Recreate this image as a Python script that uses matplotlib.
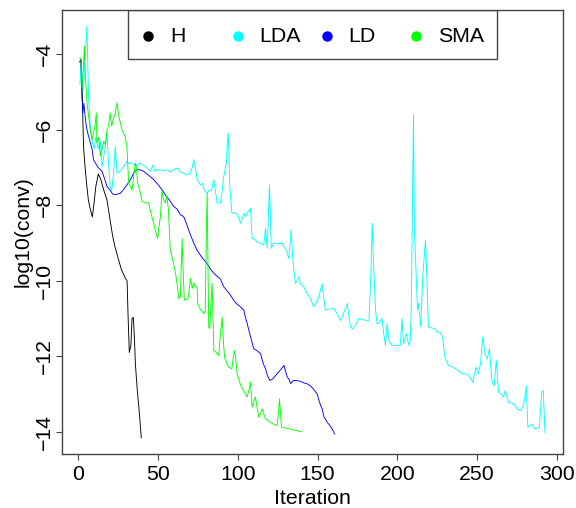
import matplotlib.pyplot as plt
from matplotlib.patches import Rectangle

plt.rcParams['font.family'] = ['Liberation Sans', 'DejaVu Sans']

# H series (iteration, log10 conv)
h_iter = [1, 1.7, 2.5, 3.3, 4.4, 5.4, 6.3, 7.5, 8.8, 10, 11, 12.6, 14, 16, 18, 20, 21.5, 23,
          25, 27, 29.5, 30.6, 31.2, 32, 33, 33.7, 34.5, 35.2, 35.8, 37, 38.3, 39.5]
h_conv = [-4.2, -4.13, -5.1, -6.45, -7.06, -7.5, -7.85, -8.1, -8.31, -7.9, -7.5, -7.17, -7.3, -7.6,
          -7.86, -8.4, -8.8, -9.1, -9.4, -9.7, -9.93, -10.0, -10.9, -11.9, -11.7, -11.0, -10.97,
          -11.5, -12.2, -12.9, -13.5, -14.16]

# LDA series
lda_iter = [1, 2, 3, 4, 5.4, 6.5, 7.5, 8.6, 10, 11, 12.5, 13.8, 14.9, 16, 17, 18, 19, 20, 21, 22,
            23.2, 24.3, 26, 28, 30.5, 32, 33.7, 36, 38.9, 41, 43, 45.2, 46.9, 48, 50, 53, 55.7,
            58, 60, 62.4, 64, 66, 68.2, 70, 71.5, 72.4, 73.5, 74.5, 76.6, 78, 79, 80.8, 82,
            83.5, 85, 86, 87.1, 89, 90, 91.2, 92.9, 93.5, 94, 94.6, 95, 96.3, 98, 100, 101.7,
            102.5, 103.8, 105, 106, 108, 109, 110.5, 112.1, 114, 116.3, 117.4, 118.4, 119.5,
            119.9, 120.5, 121, 122.6, 125, 127.8, 129, 130.5, 132, 133, 133.5, 134.3, 135.2,
            136.2, 137.2, 138.3, 139.5, 141.4, 143, 145.6, 147.6, 149, 151, 152.9, 153.5, 155,
            157, 160.3, 162, 164.5, 166, 168.7, 169.5, 170.7, 172, 173.5, 176, 178, 180, 182.3,
            183.3, 184.3, 185.3, 186.4, 187.4, 189, 190.5, 191.5, 192.6, 193.6, 195, 196.7, 199,
            201.9, 203, 204, 205.7, 207.2, 208.2, 208.8, 209.9, 210.2, 210.7, 211.9, 212.7,
            213.3, 213.9, 214.8, 216, 217.7, 218.6, 219.5, 221.5, 223.6, 225.1, 226.8, 228.4,
            229.9, 232, 235.1, 238.3, 241.4, 243.6, 245.5, 247.3, 249.4, 250.8, 252.2, 253.6,
            255, 256.5, 257.8, 259.3, 260.8, 262.1, 263.5, 265, 266.6, 267.7, 269.8, 273, 275.1,
            277.1, 279.2, 280.3, 280.9, 281.9, 284.4, 286.4, 289.1, 290, 290.6, 291.6, 292.6]
lda_conv = [-4.8, -4.2, -5.0, -4.3, -3.25, -5.2, -5.9, -6.26, -6.5, -6.2, -6.5, -6.3, -6.97, -6.7,
            -6.44, -6.08, -6.9, -7.5, -7.6, -7.2, -6.44, -7.15, -7.1, -7.0, -6.84, -6.9, -6.88,
            -6.95, -6.88, -6.95, -7.0, -7.1, -6.93, -7.1, -7.05, -7.08, -7.06, -7.12, -7.05,
            -7.01, -7.12, -7.15, -7.19, -7.15, -7.0, -6.79, -7.0, -7.32, -7.46, -7.42, -7.6,
            -7.68, -7.6, -7.6, -7.32, -7.63, -7.94, -7.94, -7.7, -7.24, -6.88, -6.3, -6.08,
            -6.8, -7.5, -8.21, -8.2, -8.25, -8.48, -8.4, -8.21, -8.3, -8.2, -8.08, -8.88, -8.9,
            -8.97, -9.0, -9.05, -8.61, -9.14, -7.9, -7.46, -8.4, -9.14, -9.0, -9.02, -9.0, -9.1,
            -9.2, -9.41, -8.9, -8.65, -9.3, -9.72, -10.07, -10.0, -9.9, -10.1, -10.16, -10.3,
            -10.47, -10.69, -10.6, -10.4, -10.07, -10.3, -10.78, -10.75, -10.74, -10.85,
            -11.05, -10.9, -10.6, -10.9, -11.22, -11.28, -11.2, -11.0, -11.02, -11.05, -11.05,
            -10.0, -8.48, -9.72, -10.78, -11.14, -11.1, -11.0, -11.4, -11.71, -11.14, -11.6,
            -11.71, -11.72, -11.71, -11.0, -11.67, -11.4, -11.71, -11.58, -10.69, -6.61, -5.6,
            -8.56, -9.89, -10.78, -10.6, -10.87, -11.22, -9.89, -8.92, -9.9, -11.22, -11.25,
            -11.27, -11.36, -11.36, -11.49, -12.02, -12.24, -12.29, -12.38, -12.47, -12.47,
            -12.55, -12.69, -12.29, -12.47, -12.2, -11.49, -11.93, -12.07, -11.8, -12.64,
            -12.78, -12.11, -12.95, -13.0, -13.08, -12.91, -13.22, -13.26, -13.39, -13.44,
            -13.31, -13.0, -12.78, -13.88, -13.8, -13.93, -13.88, -13.3, -12.95, -12.91, -14.02]

# LD series
ld_iter = [1, 1.7, 2.3, 2.9, 3.5, 4.2, 5, 6, 7, 8.6, 9.6, 11, 12.5, 14.9, 16.5, 18, 20, 21.5,
           23.2, 26.4, 28.5, 30.5, 33, 35, 36.8, 39, 41, 44, 47.3, 50, 52.5, 55, 57, 59.8, 62,
           64, 66.1, 67.5, 69.2, 70.5, 72.4, 74.5, 77, 80.8, 83, 85, 87, 89.1, 91.2, 93, 95.4,
           97.5, 99, 101.7, 103.8, 105, 105.9, 107.5, 110, 112, 114.3, 116, 117.4, 118.5,
           120.1, 122, 123.7, 126, 128, 129, 130, 131, 132, 133.2, 134.5, 136.2, 139, 141,
           143.5, 146, 148, 149.8, 150.8, 151.9, 153, 154, 156.1, 158, 159.5, 160.7]
ld_conv = [-4.2, -4.18, -5.1, -5.55, -5.3, -5.6, -5.9, -6.1, -6.25, -6.5, -6.8, -6.9, -7.0, -7.1,
           -7.3, -7.5, -7.6, -7.7, -7.72, -7.68, -7.58, -7.46, -7.3, -7.12, -7.06, -7.06, -7.1,
           -7.2, -7.32, -7.45, -7.59, -7.75, -7.85, -8.03, -8.1, -8.25, -8.3, -8.45, -8.65,
           -8.8, -9.0, -9.19, -9.35, -9.55, -9.7, -9.8, -9.88, -9.95, -10.16, -10.25, -10.38,
           -10.52, -10.6, -10.69, -10.78, -11.0, -11.13, -11.4, -11.8, -11.85, -11.93, -12.2,
           -12.33, -12.5, -12.64, -12.6, -12.51, -12.4, -12.3, -12.24, -12.4, -12.55, -12.6,
           -12.73, -12.65, -12.64, -12.66, -12.7, -12.73, -12.8, -12.9, -13.0, -13.15, -13.3,
           -13.4, -13.6, -13.75, -13.85, -13.95, -14.06]

# SMA series
sma_iter = [1, 1.7, 2.3, 3, 3.8, 4.5, 5.5, 6.5, 7.5, 8.6, 9.6, 10.5, 11.3, 11.7, 12.8, 13.8, 15,
            16, 17, 18, 19, 20, 21, 22, 23, 24.3, 25.3, 26.4, 27.5, 28.4, 29.5, 30.5, 31.6,
            32.6, 33.7, 34.7, 35.8, 36.4, 37.2, 38.5, 40, 42, 44.1, 45.5, 47.3, 48.5, 49.8,
            50.5, 51.5, 52.5, 53.5, 54.6, 55.5, 56.5, 57.7, 59, 61, 62, 63, 64, 65.1, 65.8,
            66.5, 68, 69, 70.3, 71.5, 72.3, 73.4, 74.5, 74.9, 76.5, 78.7, 79.6, 80.4, 80.8,
            81.3, 81.8, 82.4, 83.9, 84.5, 85, 86.5, 88.1, 89, 90.2, 91, 91.7, 93.3, 94.3, 96.3,
            97.3, 97.9, 98.6, 99.6, 101.7, 103.5, 105.9, 107, 108, 109, 110, 111.1, 113.2,
            114.5, 115.3, 117.4, 120.5, 122.5, 124.7, 125.5, 126.2, 127.4, 130, 133, 137, 140]
sma_conv = [-4.1, -4.1, -4.9, -4.5, -3.78, -4.6, -5.3, -5.64, -6.0, -6.26, -6.07, -5.9, -5.55,
            -6.35, -6.2, -6.7, -6.5, -6.3, -6.4, -6.0, -5.9, -5.55, -5.9, -5.7, -5.6, -5.28,
            -5.6, -5.82, -6.0, -6.08, -6.2, -6.44, -7.41, -7.5, -7.6, -7.23, -6.88, -6.97,
            -7.41, -7.6, -7.9, -7.93, -7.94, -8.2, -8.48, -8.7, -8.88, -8.6, -8.3, -7.63,
            -7.85, -7.94, -7.75, -8.1, -9.19, -9.4, -9.8, -10.1, -10.47, -10.43, -8.88, -9.8,
            -10.51, -10.5, -10.45, -9.94, -10.2, -10.05, -10.16, -10.16, -10.6, -10.75, -10.87,
            -10.8, -8.48, -7.68, -9.5, -11.22, -11.27, -10.07, -11.0, -11.85, -11.9, -11.98,
            -11.5, -10.96, -11.6, -12.02, -12.2, -12.29, -12.33, -12.0, -11.85, -12.0, -12.47,
            -12.75, -12.9, -13.08, -12.9, -12.69, -13.35, -13.2, -13.08, -13.62, -13.5, -13.4,
            -13.66, -13.75, -13.8, -13.84, -13.5, -13.13, -13.88, -13.9, -13.93, -13.97, -14.0]

names = ['H', 'LDA', 'LD', 'SMA']
colors = ['black', '#00ffff', '#0000ff', '#00ff00']

fig = plt.figure(figsize=(5.76, 5.08), dpi=100)
ax = fig.add_axes([0.1071, 0.1063, 0.8708, 0.874])

ax.plot(h_iter, h_conv, color=colors[0], lw=0.65)
ax.plot(lda_iter, lda_conv, color=colors[1], lw=0.65)
ax.plot(ld_iter, ld_conv, color=colors[2], lw=0.65)
ax.plot(sma_iter, sma_conv, color=colors[3], lw=0.65)

ax.set_xlim(-10.4, 304.1)
ax.set_ylim(-14.59, -2.826)
ax.set_xticks(range(0, 301, 50))
ax.set_yticks(range(-14, -3, 2))

fs = 15.3
for sp in ax.spines.values():
    sp.set_color('#444444')
    sp.set_linewidth(1.0)
ax.tick_params(axis='both', length=4.3, width=0.8, color='#444444', labelsize=fs)
ax.tick_params(axis='x', pad=3.5)
ax.tick_params(axis='y', pad=1.5)
for lab in ax.get_yticklabels():
    lab.set_rotation(90)
    lab.set_va('center')

ax.set_xlabel('Iteration', fontsize=fs)
ax.set_ylabel('log10(conv)', fontsize=fs)
ax.xaxis.set_label_coords(0.5, -0.078)
ax.yaxis.set_label_coords(-0.057, 0.5)

# legend box across the top, equal spaced entries
ax.add_patch(Rectangle((0.1328, 0.8896), 0.7344, 0.1104, transform=ax.transAxes,
                       fill=False, edgecolor='#444444', lw=1.0, zorder=5))
for i, (nm, col) in enumerate(zip(names, colors)):
    x0 = 0.1726 + i * 0.1782
    ax.plot([x0], [0.9414], 'o', color=col, ms=6.5, transform=ax.transAxes, zorder=6)
    ax.text(x0 + 0.0433, 0.9414, nm, fontsize=fs, va='center', ha='left',
            transform=ax.transAxes, zorder=6)

fig.savefig('out.png', dpi=100)
